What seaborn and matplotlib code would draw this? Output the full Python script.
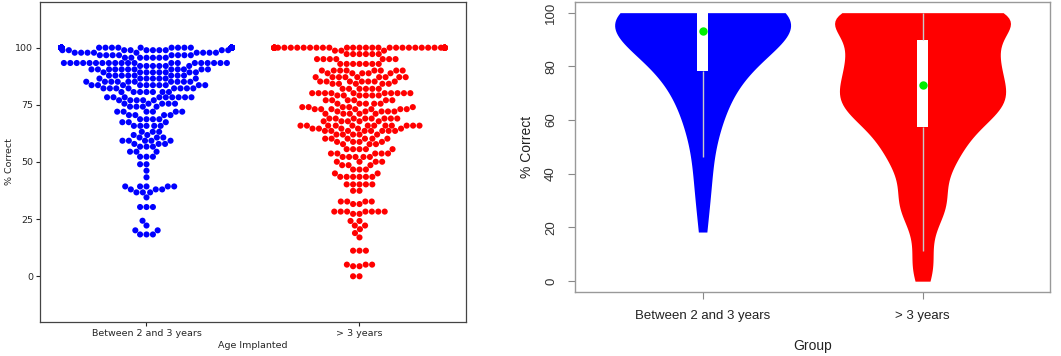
import numpy as np
import pandas as pd
import matplotlib
matplotlib.use("Agg")
import matplotlib.pyplot as plt
import seaborn as sns

groups = ["Between 2 and 3 years", "> 3 years"]
colors = {"Between 2 and 3 years": "#0000ff", "> 3 years": "#ff0000"}

# score levels (% correct) and how many children sit at each level
blue_levels = [100, 98.9, 97.8, 96.7, 95.6, 93.3, 92, 90.5, 89.2, 87.8, 86.5, 85.1,
               83.6, 82.2, 80.6, 78.3, 77, 75.5, 74.2, 72, 70.5, 68.7, 67.4, 65.8,
               63.2, 61.8, 60.7, 59.3, 57.9, 56.7, 54.5, 52.3, 49, 46.2, 43.3, 39.3,
               38, 36.7, 34.5, 30.3, 24.3, 22.2, 20.1, 18.3]
blue_counts = [125, 10, 9, 8, 7, 20, 6, 12, 8, 8, 7, 10,
               10, 8, 7, 9, 5, 5, 4, 6, 4, 4, 3, 5,
               3, 2, 3, 5, 3, 3, 3, 3, 2, 1, 1, 5,
               3, 3, 1, 3, 1, 1, 2, 3]

red_levels = [100, 98.7, 97.2, 95, 92.9, 90, 88.8, 87.1, 85.2, 84.2, 82, 80.1,
              79.1, 77, 75.5, 74, 73.1, 72.1, 71.1, 69, 67.8, 65.9, 64.6, 63.6,
              62, 60.2, 58.8, 57.8, 55.6, 53.7, 52.2, 50.1, 48.6, 46.7, 45, 43.5,
              40.2, 37.4, 32.7, 31.6, 28.3, 27.3, 24.2, 22.2, 20.6, 18.9, 17, 11.2,
              5.1, 4.4, 0]
red_counts = [48, 3, 6, 7, 7, 8, 5, 9, 7, 5, 6, 10,
              6, 6, 5, 5, 7, 5, 5, 8, 5, 12, 5, 8,
              5, 6, 4, 3, 5, 5, 5, 4, 3, 3, 2, 6,
              5, 2, 4, 2, 7, 2, 2, 2, 1, 1, 1, 3,
              3, 2, 2]

df = pd.concat([
    pd.DataFrame({"group": groups[0], "score": np.repeat(blue_levels, blue_counts)}),
    pd.DataFrame({"group": groups[1], "score": np.repeat(red_levels, red_counts)}),
], ignore_index=True)

sns.set_style("white")
fig = plt.figure(figsize=(10.61, 3.56), dpi=100)

# left: swarm
ax1 = fig.add_axes([0.0377, 0.0955, 0.4015, 0.899])
sns.swarmplot(data=df, x="group", y="score", hue="group", palette=colors,
              order=groups, size=4.4, linewidth=0, legend=False, ax=ax1,
              warn_thresh=1)
ax1.set_ylim(-20, 120)
ax1.set_xlim(-0.5, 1.5)
ax1.set_yticks([0, 25, 50, 75, 100])
ax1.set_xlabel("Age Implanted", fontsize=6.8, labelpad=2)
ax1.set_ylabel("% Correct", fontsize=6.8, labelpad=1)
ax1.tick_params(axis="both", labelsize=6.8, length=3, width=0.8, direction="out",
                bottom=True, left=True, pad=2)
for s in ax1.spines.values():
    s.set_color("#444444")
    s.set_linewidth(0.9)

# right: violin + box, R style
rfont = "Liberation Sans"
ax2 = fig.add_axes([0.542, 0.180, 0.4477, 0.8146])
for g, bw in zip(groups, [1.8, 0.85]):
    sns.violinplot(data=df[df["group"] == g], x="group", y="score", hue="group",
                   palette=colors, order=groups, cut=0, inner=None,
                   density_norm="width", width=0.8, linewidth=0, saturation=1,
                   bw_adjust=bw, legend=False, ax=ax2)
sns.boxplot(data=df, x="group", y="score", order=groups, width=0.05,
            color="white", linecolor="white", saturation=1, showfliers=False,
            whiskerprops={"color": "#c8c8c8", "linewidth": 1},
            capprops={"linewidth": 0}, medianprops={"linewidth": 0},
            boxprops={"linewidth": 0}, ax=ax2)
sns.pointplot(data=df, x="group", y="score", order=groups, estimator="median",
              errorbar=None, color="#00ee00", linestyle="none", markersize=4,
              ax=ax2)
ax2.set_ylim(-4, 104)
ax2.set_xlim(-0.58, 1.58)
ax2.set_yticks([0, 20, 40, 60, 80, 100])
ax2.set_yticklabels(["0", "20", "40", "60", "80", "100"], rotation=90,
                    va="center", family=rfont, fontsize=9.5, color="#333333")
ax2.set_xticks([0, 1])
ax2.set_xticklabels(groups, family=rfont, fontsize=9.5, color="#222222")
ax2.set_xlabel("Group", family=rfont, fontsize=10, labelpad=12, color="#222222")
ax2.set_ylabel("% Correct", family=rfont, fontsize=10, labelpad=8, color="#222222")
ax2.tick_params(axis="both", length=5, width=0.8, direction="out", color="#888888",
                bottom=True, left=True, pad=8)
for s in ax2.spines.values():
    s.set_color("#999999")
    s.set_linewidth(1.0)

fig.savefig("out.png", dpi=100)
